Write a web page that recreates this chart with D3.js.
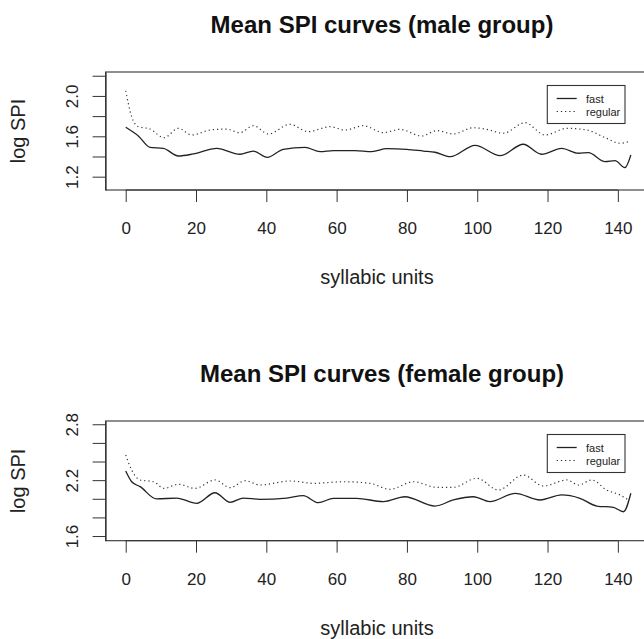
<!DOCTYPE html>
<html>
<head>
<meta charset="utf-8">
<script src="https://cdn.jsdelivr.net/npm/d3@7"></script>
<style>
  body { margin: 0; background: #fff; }
  svg { display: block; font-family: "Liberation Sans", Arial, Helvetica, sans-serif; }
</style>
</head>
<body>
<div id="chart"></div>
<script>
// syllabic unit positions + mean log SPI
const maleFastX   = [0, 3.6, 6.9, 10.7, 15, 19.2, 25.9, 32.5, 36.3, 40.3, 44.8, 51, 55.3, 59.1, 65.2, 70, 74.3, 79.9, 84.7, 88, 92.3, 99.4, 106.5, 113.1, 118.3, 124, 128.8, 131.6, 136.4, 139.2, 142, 143.7];
const maleFastY   = [1.689, 1.603, 1.491, 1.481, 1.405, 1.425, 1.481, 1.422, 1.454, 1.392, 1.471, 1.491, 1.448, 1.458, 1.458, 1.448, 1.477, 1.471, 1.454, 1.442, 1.398, 1.511, 1.408, 1.521, 1.422, 1.481, 1.432, 1.438, 1.349, 1.359, 1.289, 1.415];
const maleRegX    = [0, 1.7, 3.6, 6.9, 10.9, 15, 18.8, 24, 28.7, 32.5, 36.3, 40.6, 46.7, 51.9, 58.1, 62.4, 67.6, 73.3, 78, 84.2, 88.5, 93.2, 98.9, 102.7, 107.4, 113.6, 119.3, 125.5, 131.2, 136.8, 140.6, 143];
const maleRegY    = [2.051, 1.794, 1.695, 1.672, 1.586, 1.679, 1.613, 1.662, 1.672, 1.636, 1.705, 1.623, 1.719, 1.646, 1.695, 1.662, 1.705, 1.636, 1.669, 1.603, 1.656, 1.623, 1.685, 1.669, 1.630, 1.735, 1.613, 1.679, 1.662, 1.580, 1.531, 1.547];

const femaleFastX = [0, 1.7, 4.1, 8.8, 14.5, 20.2, 25.4, 29.7, 33.5, 38.2, 45.8, 50.5, 54.8, 59.1, 65.7, 73.3, 79.4, 88, 93.2, 98.9, 103.6, 110.8, 117.9, 124, 129.2, 134, 138.7, 141.6, 143.7];
const femaleFastY = [2.298, 2.183, 2.130, 1.998, 2.008, 1.951, 2.065, 1.962, 2.008, 1.994, 2.008, 2.033, 1.958, 2.005, 2.005, 1.969, 2.022, 1.922, 1.987, 2.022, 1.969, 2.059, 1.987, 2.041, 2.005, 1.922, 1.908, 1.861, 2.059];
const femaleRegX  = [0, 1.7, 4.1, 7.9, 10.9, 15, 19.7, 25.4, 29.7, 34, 38.2, 46.8, 53.4, 61.9, 69.5, 75.2, 81.8, 88.5, 93.2, 99.9, 106, 113.1, 118.8, 125.5, 128.8, 132.6, 136.8, 140.6, 143];
const femaleRegY  = [2.470, 2.309, 2.202, 2.183, 2.112, 2.156, 2.112, 2.202, 2.119, 2.194, 2.148, 2.191, 2.166, 2.183, 2.166, 2.102, 2.183, 2.123, 2.123, 2.220, 2.094, 2.255, 2.137, 2.202, 2.148, 2.202, 2.094, 2.041, 1.987];

const xTicks = [0, 20, 40, 60, 80, 100, 120, 140];
const maleYTicks = [1.2, 1.4, 1.6, 1.8, 2.0, 2.2];
const maleYLabels = [1.2, 1.6, 2.0];
const femaleYTicks = [1.6, 1.8, 2.0, 2.2, 2.4, 2.6, 2.8];
const femaleYLabels = [1.6, 2.2, 2.8];
const legendNames = ["fast", "regular"];

const width = 644, height = 639;
const ink = "#333";

const svg = d3.select("#chart").append("svg")
    .attr("width", width)
    .attr("height", height);

const x = d3.scaleLinear().domain([-5.72, 148.72]).range([105.6, 648.5]);

function panel({ title, top, bottom, yDomain, yTicks, yLabels, fast, reg }) {
  const y = d3.scaleLinear().domain(yDomain).range([bottom, top]);
  const g = svg.append("g");
  const midY = (top + bottom) / 2;

  // title
  g.append("text")
      .attr("x", 382).attr("y", top - 39)
      .attr("text-anchor", "middle")
      .attr("font-size", 24).attr("font-weight", "bold")
      .attr("fill", "#111")
      .text(title);

  // box
  g.append("rect")
      .attr("x", x.range()[0]).attr("y", top)
      .attr("width", x.range()[1] - x.range()[0])
      .attr("height", bottom - top)
      .attr("fill", "none").attr("stroke", ink).attr("stroke-width", 1.1);

  // x axis
  const xa = g.append("g")
      .attr("transform", `translate(0,${bottom})`)
      .call(d3.axisBottom(x).tickValues(xTicks).tickSize(12).tickPadding(20).tickSizeOuter(0));
  xa.select(".domain")
      .attr("d", `M${x(xTicks[0])},0H${x(xTicks[xTicks.length - 1])}`)
      .attr("stroke", ink);
  xa.selectAll(".tick line").attr("stroke", ink);
  xa.selectAll(".tick text")
      .attr("font-size", 17).attr("font-family", null).attr("fill", "#222")
      .attr("dy", "0.71em");

  // y axis
  const ya = g.append("g")
      .attr("transform", `translate(${x.range()[0]},0)`)
      .call(d3.axisLeft(y).tickValues(yTicks).tickSize(13).tickSizeOuter(0)
        .tickFormat(d => yLabels.some(v => Math.abs(v - d) < 1e-9) ? d3.format(".1f")(d) : ""));
  ya.select(".domain").attr("stroke", ink);
  ya.selectAll(".tick line").attr("stroke", ink);
  ya.selectAll(".tick text")
      .attr("font-size", 17).attr("font-family", null).attr("fill", "#222")
      .attr("x", null).attr("dy", null)
      .attr("text-anchor", "middle")
      .attr("transform", "translate(-28,0) rotate(-90)");

  // axis titles
  g.append("text")
      .attr("x", 377).attr("y", bottom + 94)
      .attr("text-anchor", "middle")
      .attr("font-size", 20).attr("fill", "#222")
      .text("syllabic units");
  g.append("text")
      .attr("transform", `translate(25,${midY}) rotate(-90)`)
      .attr("text-anchor", "middle")
      .attr("font-size", 20).attr("fill", "#222")
      .text("log SPI");

  const line = d3.line()
      .x(d => x(d[0])).y(d => y(d[1]))
      .curve(d3.curveMonotoneX);

  g.append("path")
      .attr("d", line(d3.zip(fast[0], fast[1])))
      .attr("fill", "none").attr("stroke", "#222").attr("stroke-width", 1.3);
  g.append("path")
      .attr("d", line(d3.zip(reg[0], reg[1])))
      .attr("fill", "none").attr("stroke", "#333").attr("stroke-width", 1.2)
      .attr("stroke-dasharray", "1.2,3");

  // legend
  const lg = g.append("g").attr("transform", `translate(547.3,${top + 13.5})`);
  lg.append("rect")
      .attr("width", 77.7).attr("height", 38)
      .attr("fill", "#fff").attr("stroke", ink).attr("stroke-width", 1.1);
  legendNames.forEach((name, i) => {
    const cy = 13 + i * 13;
    lg.append("line")
        .attr("x1", 9.4).attr("x2", 29.4).attr("y1", cy).attr("y2", cy)
        .attr("stroke", "#222").attr("stroke-width", i ? 1.1 : 1.3)
        .attr("stroke-dasharray", i ? "1.2,3" : null);
    lg.append("text")
        .attr("x", 38.7).attr("y", cy + 4)
        .attr("font-size", 11).attr("fill", "#222")
        .text(name);
  });
}

panel({
  title: "Mean SPI curves (male group)",
  top: 72, bottom: 190,
  yDomain: [1.068, 2.237],
  yTicks: maleYTicks, yLabels: maleYLabels,
  fast: [maleFastX, maleFastY],
  reg: [maleRegX, maleRegY]
});

panel({
  title: "Mean SPI curves (female group)",
  top: 421, bottom: 540.7,
  yDomain: [1.550, 2.835],
  yTicks: femaleYTicks, yLabels: femaleYLabels,
  fast: [femaleFastX, femaleFastY],
  reg: [femaleRegX, femaleRegY]
});
</script>
</body>
</html>
